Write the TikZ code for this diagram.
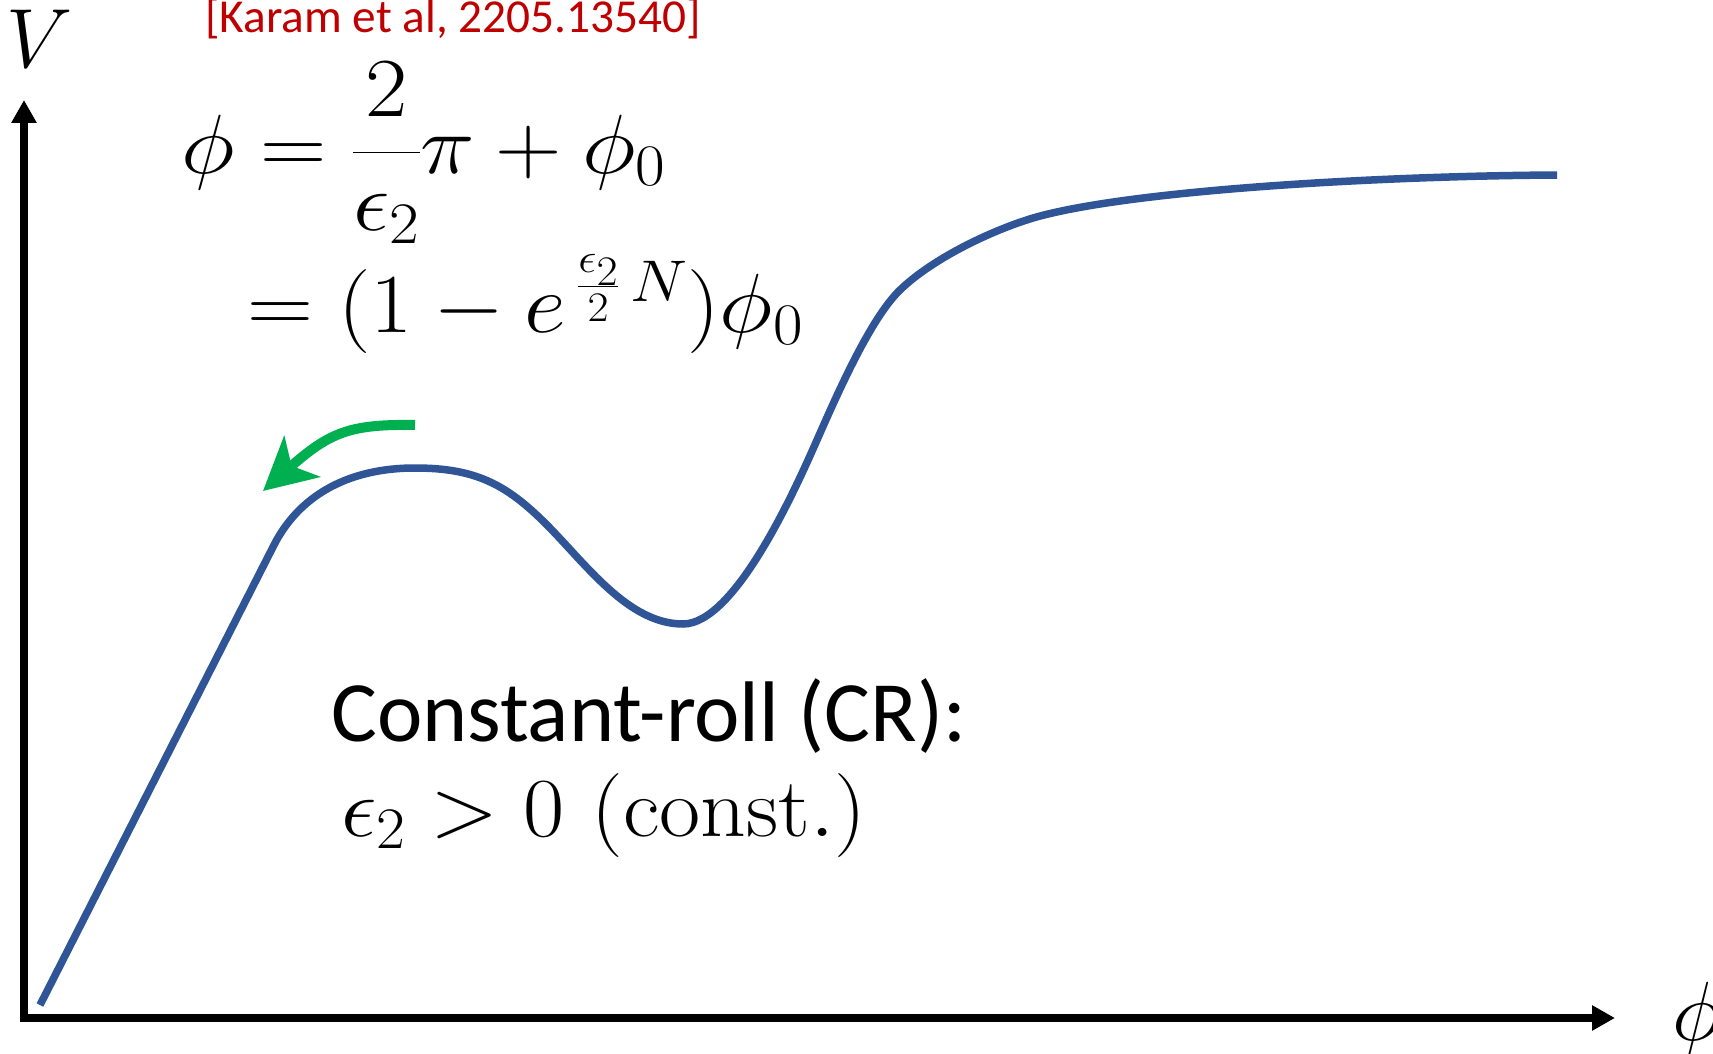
\RequirePackage{fix-cm}
\documentclass[tikz,border=0pt]{standalone}
\usepackage{amsmath}
\usepackage{fontspec}
\newfontfamily\calibri{Carlito}
\usetikzlibrary{arrows.meta}
\definecolor{curveblue}{RGB}{47,85,151}
\definecolor{arrgreen}{RGB}{0,176,80}
\definecolor{citered}{RGB}{192,0,0}
\begin{document}
\begin{tikzpicture}[x=1pt,y=-1pt,
  mathlbl/.style={inner sep=0pt, anchor=base west, font=\fontsize{84}{100}\selectfont},
  sanslbl/.style={inner sep=0pt, anchor=base west, font=\calibri\fontsize{86}{100}\selectfont},
  citelbl/.style={inner sep=0pt, anchor=base west, text=citered, font=\calibri\fontsize{47.3}{50}\selectfont},
  axisline/.style={line width=7.5pt, -{Triangle[length=23pt,width=24pt]}},
  potential/.style={curveblue, line width=7.5pt},
  rollarrow/.style={arrgreen, line width=10pt, -{Stealth[length=52pt,width=54pt,inset=14pt]}}]
\useasboundingbox (0,0) rectangle (1713,1054);
\fill[white] (0,0) rectangle (1713,1054);
% axes
\coordinate (O) at (24,1018);
\coordinate (Ob) at (24,1021.7);
\coordinate (Ol) at (20.3,1018);
\coordinate (ytip) at (24,100);
\coordinate (xtip) at (1615,1018);
\draw[axisline] (Ob) -- (ytip);
\draw[axisline] (Ol) -- (xtip);
% potential curve
\coordinate (c0) at (40,1005);
\coordinate (c1) at (274,545);
\coordinate (peak) at (415,468);
\coordinate (mid) at (546,524);
\coordinate (minv) at (683,624);
\coordinate (k1) at (817,440);
\coordinate (k2) at (900,290);
\coordinate (k3) at (1033,218);
\coordinate (cend) at (1557,175);
\draw[potential] (c0) -- (c1) .. controls (298,498) and (345,468) .. (peak)
  .. controls (475,468) and (506,484) .. (mid)
  .. controls (586,564) and (628,624) .. (minv)
  .. controls (735,624) and (795,490) .. (k1)
  .. controls (839,390) and (871,318) .. (k2)
  .. controls (932,259) and (990,231) .. (k3)
  .. controls (1129,190) and (1380,176) .. (cend);
% green arrow
\coordinate (gstart) at (415,425);
\coordinate (gtip) at (263,491);
\draw[rollarrow] (gstart) .. controls (350,424) and (330,432) .. (gtip);
% labels
\node[mathlbl] (V) at (6,68) {$V$};
\node[mathlbl] (phiax) at (1672,1040) {$\phi$};
\node[citelbl] (cite) at (205,33) {[Karam et al, 2205.13540]};
\node[mathlbl] (eq1) at (181,173) {\scalebox{1.095}[1]{$\displaystyle \phi = \frac{2}{\epsilon_2}\pi + \phi_0$}};
\node[mathlbl] (eq2) at (247,332) {\scalebox{1.09}[1]{$= (1 - e^{\,\frac{\epsilon_2}{2}\,N})\phi_0$}};
\node[sanslbl] (cr) at (331,741) {Constant-roll (CR):};
\node[mathlbl] (eps) at (341,836) {\scalebox{1.065}[1]{$\epsilon_2 > 0\ (\mathrm{const.})$}};
\end{tikzpicture}
\end{document}
